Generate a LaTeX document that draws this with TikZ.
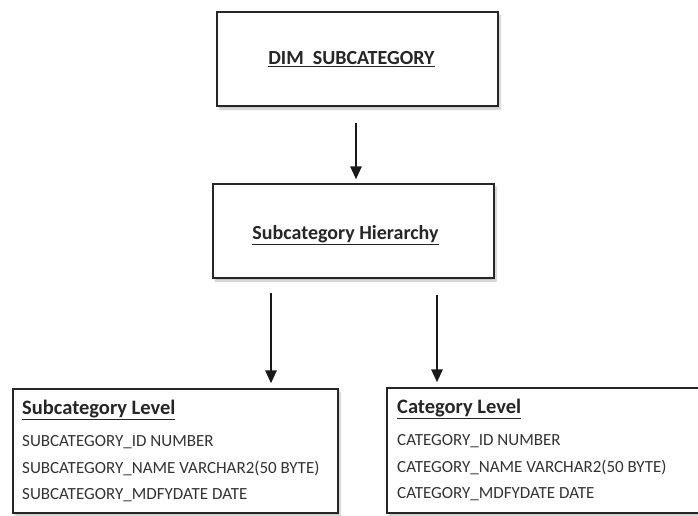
\documentclass[tikz,border=0pt]{standalone}
\usepackage{fontspec}
\setmainfont{Carlito}
\usetikzlibrary{arrows.meta,shadows.blur}
\begin{document}
\begin{tikzpicture}[x=1pt,y=-1pt,
  box/.style={draw=black!85,line width=1.2pt,fill=white,inner sep=0pt,
    blur shadow={shadow xshift=2pt,shadow yshift=-3pt,shadow blur steps=6,shadow opacity=25}},
  title/.style={font=\fontsize{20}{24}\selectfont\bfseries,text=black!85},
  row/.style={font=\fontsize{17}{20}\selectfont,text=black!80,anchor=west,inner sep=0pt},
  head/.style={font=\fontsize{20.5}{24}\selectfont\bfseries,text=black!85,anchor=west,inner sep=0pt},
  arr/.style={line width=2.6pt,black!90,-{Triangle[width=11pt,length=13pt]}}]
\useasboundingbox (0,0) rectangle (698,515);

% top two boxes
\node[box,minimum width=281pt,minimum height=94pt] (dim) at (357.5,59) {};
\node[title] (dimt) at ([xshift=-6pt]dim.center) {\underline{DIM\ \ SUBCATEGORY}};
\node[box,minimum width=281pt,minimum height=94pt] (hier) at (353.5,231) {};
\node[title] (hiert) at ([xshift=-8pt,yshift=-4pt]hier.center) {\underline{Subcategory Hierarchy}};

% level boxes
\node[box,minimum width=325pt,minimum height=124pt] (sub) at (175.5,451) {};
\node[box,minimum width=320pt,minimum height=125pt] (cat) at (547,450.5) {};

\node[head] (subh) at (22,410) {\underline{Subcategory Level}};
\node[row] (sub1) at (22,442) {SUBCATEGORY\_ID NUMBER};
\node[row] (sub2) at (22,468) {SUBCATEGORY\_NAME VARCHAR2(50 BYTE)};
\node[row] (sub3) at (22,495) {SUBCATEGORY\_MDFYDATE DATE};

\node[head] (cath) at (397,409) {\underline{Category Level}};
\node[row] (cat1) at (397,441) {CATEGORY\_ID NUMBER};
\node[row] (cat2) at (397,467) {CATEGORY\_NAME VARCHAR2(50 BYTE)};
\node[row] (cat3) at (397,494) {CATEGORY\_MDFYDATE DATE};

% connectors
\draw[arr] ([xshift=-1.5pt,yshift=-16pt]dim.south) -- ([xshift=2.5pt,yshift=4pt]hier.north);
\draw[arr] ([xshift=-82.5pt,yshift=-14pt]hier.south) -- ([xshift=-82.5pt,yshift=5pt]hier.south |- sub.north);
\draw[arr] ([xshift=83.5pt,yshift=-16pt]hier.south) -- ([xshift=83.5pt,yshift=5pt]hier.south |- cat.north);
\end{tikzpicture}
\end{document}
